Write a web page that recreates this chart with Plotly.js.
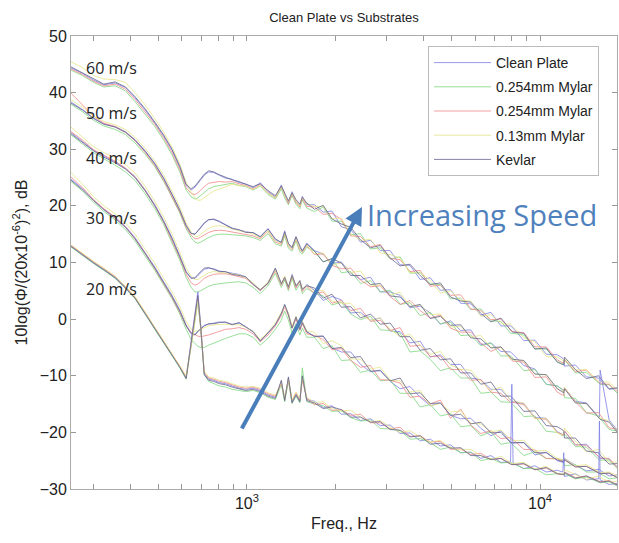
<!DOCTYPE html>
<html>
<head>
<meta charset="utf-8">
<script src="https://cdn.plot.ly/plotly-3.0.1.min.js"></script>
<style>html,body{margin:0;padding:0;background:#fff;}#chart{width:619px;height:543px;}</style>
</head>
<body>
<div id="chart"></div>
<script>
const freq = [250,275,300,325,355,385,415,450,485,520,555,590,620,645,665,680,695,715,740,770,805,845,890,940,990,1050,1110,1180,1250,1310,1345,1385,1425,1470,1515,1545,1600,1700,1820,1950,2100,2260,2440,2640,2850,3080,3330,3600,3900,4220,4570,4950,5360,5800,6280,6800,7350,7930,8010,8090,8800,9600,10500,11450,11960,12040,12120,13200,14400,15850,15940,16030,17200,18500];

const substrates = ["Clean Plate","0.254mm Mylar","0.254mm Mylar","0.13mm Mylar","Kevlar"];
const speedLabels = ["60 m/s","50 m/s","40 m/s","30 m/s","20 m/s"];

// 60 m/s
const s60_clean = [44.4,43.4,42.2,41.4,41.7,40.9,39.1,36.9,34.6,32.3,29.8,26.8,23.6,22.8,23.3,23.9,24.6,25.4,26.0,25.9,25.4,24.9,24.7,24.1,23.9,23.2,24.1,22.5,21.6,23.7,22.1,20.6,22.5,20.8,20.1,21.7,20.2,20.2,18.9,19.1,16.3,15.8,13.6,13.9,12.1,12.1,9.6,9.5,7.0,7.3,5.1,5.2,2.8,2.7,0.7,1.2,-1.2,-1.2,-1.4,-1.6,-3.8,-3.7,-6.2,-6.3,-6.9,-7.1,-8.3,-8.1,-10.2,-10.4,-10.6,-10.8,-12.4,-12.2];
const s60_mylarG = [44.0,43.0,41.8,41.0,41.2,40.3,38.4,36.2,34.0,31.6,29.0,26.0,22.8,21.6,21.2,21.4,21.8,22.4,23.0,23.4,23.6,23.8,24.0,23.6,23.4,22.8,23.5,22.0,21.2,23.0,21.4,20.2,21.8,20.3,19.5,21.0,19.6,19.0,19.8,17.3,17.3,14.9,15.1,12.4,12.6,10.6,11.0,8.1,8.2,6.2,6.1,3.6,3.7,1.7,1.8,-0.3,-0.4,-2.5,-2.5,-2.5,-2.8,-5.2,-5.3,-7.5,-7.9,-8.0,-7.2,-9.5,-9.4,-11.3,-11.3,-11.5,-11.6,-13.3];
const s60_mylarR = [44.2,43.2,42.0,41.2,41.5,40.6,38.8,36.6,34.4,32.0,29.4,26.4,23.2,22.2,22.0,22.3,22.8,23.4,24.0,24.2,24.3,24.2,24.3,23.9,23.6,23.0,23.8,22.3,21.4,23.3,21.8,20.4,22.1,20.6,19.8,21.3,19.9,19.8,18.5,18.7,17.6,14.7,14.6,12.8,13.2,10.7,10.5,8.4,8.6,5.8,6.0,4.2,4.3,1.8,1.5,-0.1,0.0,-1.9,-2.1,-2.2,-2.4,-4.9,-4.9,-7.2,-7.6,-7.8,-7.1,-9.3,-9.0,-11.2,-11.2,-11.4,-11.5,-13.0];
const s60_mylarY = [45.5,44.4,43.0,42.4,42.3,41.8,40.0,37.8,35.4,33.0,30.4,27.4,24.2,22.4,21.4,21.0,21.0,21.4,22.0,22.6,23.0,23.4,23.8,23.6,23.5,22.9,23.6,22.2,21.5,23.4,22.0,20.8,22.3,20.9,20.0,21.5,20.4,19.9,19.9,17.8,17.8,15.1,13.9,14.1,11.7,11.4,10.8,8.2,8.3,6.8,4.6,5.0,3.3,3.2,0.5,0.8,-0.8,-0.9,-1.1,-1.3,-3.3,-4.0,-6.6,-6.7,-7.3,-7.3,-7.0,-9.0,-8.9,-11.1,-11.1,-11.1,-11.1,-12.7];
const s60_kevlar = [44.6,43.5,42.4,41.5,41.9,41.0,39.3,37.1,34.8,32.5,30.0,27.0,23.8,23.0,23.5,24.1,24.8,25.6,26.2,26.0,25.5,25.0,24.6,24.3,23.8,23.4,23.9,22.7,21.8,23.5,22.3,20.9,22.3,21.1,20.3,21.5,20.5,19.4,20.1,17.7,16.8,16.2,14.0,12.6,13.0,10.8,9.4,9.7,7.7,6.1,6.4,3.9,3.2,3.0,1.0,-0.5,0.2,-2.1,-2.2,-2.3,-2.5,-5.3,-5.1,-7.6,-8.0,-8.1,-6.7,-8.9,-10.5,-10.0,-10.2,-10.4,-12.3,-12.1];

// 50 m/s
const s50_clean = [38.4,37.0,35.5,34.5,34.0,33.1,31.7,29.7,27.5,24.9,22.1,19.3,16.6,15.2,15.0,15.5,16.1,16.9,17.5,17.7,17.3,16.7,16.1,15.7,15.5,15.2,14.6,16.0,14.0,13.6,15.6,13.2,12.7,14.6,12.6,12.1,13.4,12.1,11.5,9.8,10.1,8.1,7.0,7.4,4.8,4.8,4.2,2.0,2.3,1.1,-0.9,-0.3,-2.0,-1.9,-4.5,-4.2,-5.7,-5.8,-6.0,-6.2,-8.2,-8.8,-11.5,-11.8,-12.5,-12.5,-12.2,-14.5,-14.8,-17.4,-17.4,-9.0,-17.8,-19.9];
const s50_mylarG = [38.0,36.6,35.1,34.1,33.5,32.6,31.1,29.1,26.9,24.3,21.5,18.7,16.0,14.4,13.6,13.4,13.6,14.0,14.4,14.8,15.0,15.0,14.9,14.8,14.7,14.4,13.9,15.1,13.3,12.9,14.7,12.5,12.0,13.8,11.9,11.5,12.7,12.0,10.1,10.7,8.2,8.4,6.3,6.8,4.8,5.1,2.6,2.9,0.6,1.2,-0.8,-0.5,-2.9,-2.8,-4.7,-4.2,-6.5,-6.5,-6.7,-6.9,-9.1,-8.9,-11.5,-11.8,-12.5,-12.7,-13.9,-14.0,-16.5,-17.1,-17.3,-17.5,-19.5,-19.8];
const s50_mylarR = [40.0,37.8,35.8,34.6,34.0,33.0,31.5,29.4,27.1,24.5,21.7,18.9,16.2,14.8,14.2,14.2,14.5,14.9,15.3,15.6,15.7,15.6,15.4,15.2,15.0,14.7,14.2,15.5,13.6,13.2,15.1,12.9,12.3,14.2,12.2,11.8,13.0,11.4,11.5,9.5,8.9,9.0,6.9,5.7,5.9,4.0,2.6,3.3,1.5,0.2,0.7,-1.6,-2.3,-2.3,-4.2,-5.7,-4.9,-7.2,-7.3,-7.4,-7.6,-10.3,-10.2,-12.9,-13.4,-13.5,-12.1,-14.6,-16.6,-16.5,-16.7,-16.9,-19.2,-19.5];
const s50_mylarY = [38.8,37.4,35.8,34.9,34.3,33.5,32.1,30.1,27.9,25.4,22.6,19.8,17.0,15.4,14.6,14.6,15.0,15.5,16.0,16.4,16.5,16.3,15.9,15.6,15.4,15.0,14.4,15.6,13.8,13.4,15.2,13.0,12.5,14.3,12.4,11.9,13.1,11.5,11.7,9.6,9.9,8.2,8.5,6.0,6.0,4.3,4.7,2.2,2.5,0.8,0.9,-1.4,-1.3,-3.1,-2.9,-5.0,-5.0,-7.1,-7.1,-7.1,-7.4,-9.7,-9.9,-12.3,-12.8,-12.9,-12.1,-14.7,-15.0,-17.3,-17.3,-17.5,-18.0,-20.2];
const s50_kevlar = [38.2,36.9,35.4,34.4,33.9,33.0,31.6,29.6,27.4,24.8,22.0,19.2,16.5,15.1,15.0,15.6,16.3,17.0,17.6,17.6,17.2,16.6,16.0,15.8,15.3,15.3,14.5,15.9,14.2,13.5,15.4,13.4,12.6,14.5,12.8,12.0,13.3,12.0,10.1,10.7,9.9,7.7,7.7,6.1,6.3,4.1,3.9,2.2,2.6,0.1,0.5,-1.1,-1.0,-3.3,-3.5,-5.1,-4.9,-6.8,-7.0,-7.1,-7.3,-9.7,-9.8,-12.3,-12.8,-13.0,-12.3,-14.8,-14.9,-17.5,-17.5,-17.7,-18.2,-20.2];

// 40 m/s
const s40_clean = [33.0,31.4,29.8,28.8,27.8,26.6,25.2,22.8,20.2,17.4,14.4,11.2,8.4,7.3,7.2,7.7,8.2,8.8,9.0,8.9,8.5,8.3,8.0,7.9,7.4,6.3,5.0,6.5,8.9,6.1,7.5,5.5,7.9,5.7,6.9,5.1,6.1,5.1,3.3,4.0,3.4,1.1,1.2,-0.2,0.2,-2.1,-2.2,-4.2,-3.9,-6.7,-6.3,-8.0,-8.0,-10.4,-10.7,-12.4,-12.4,-14.3,-14.5,-14.6,-14.9,-17.4,-17.5,-19.9,-20.3,-20.5,-19.8,-22.2,-22.1,-24.4,-24.4,-24.6,-24.7,-26.3];
const s40_mylarG = [32.6,31.0,29.4,28.3,27.2,26.0,24.5,22.1,19.5,16.7,13.6,10.4,7.4,5.6,4.8,4.8,5.0,5.4,5.8,6.1,6.3,6.4,6.5,6.6,6.4,5.6,4.5,5.9,8.1,5.6,6.9,5.0,7.2,5.1,6.2,4.5,5.4,4.6,4.1,2.5,3.0,0.9,-0.1,0.5,-1.9,-2.0,-2.5,-5.8,-5.6,-7.1,-9.1,-8.6,-10.4,-10.4,-13.1,-12.9,-14.6,-14.7,-14.9,-15.1,-17.2,-17.1,-19.8,-20.0,-20.6,-20.6,-20.3,-22.5,-22.6,-24.9,-24.9,-24.9,-24.9,-26.6];
const s40_mylarR = [33.2,31.6,29.9,28.9,27.9,26.7,25.1,22.7,20.0,17.1,14.0,10.8,7.9,6.4,6.0,6.2,6.6,7.2,7.6,7.9,8.0,8.0,7.8,7.5,7.2,6.1,5.0,6.3,8.5,6.0,7.3,5.3,7.6,5.5,6.6,4.9,5.8,4.5,4.8,2.8,3.3,1.5,1.9,-0.4,-0.2,-2.0,-1.5,-4.8,-4.6,-6.6,-6.5,-8.9,-8.9,-10.8,-10.7,-12.9,-13.1,-14.7,-14.7,-14.7,-15.1,-17.5,-17.7,-20.0,-20.4,-20.5,-19.7,-22.2,-22.3,-24.3,-24.3,-24.5,-24.6,-26.4];
const s40_mylarY = [34.0,32.2,30.4,29.4,28.5,27.3,25.8,23.4,20.8,18.0,15.0,11.8,9.0,7.6,7.0,7.0,7.3,7.8,8.2,8.4,8.3,8.2,8.0,7.8,7.3,6.4,5.2,6.6,8.7,6.3,7.6,5.7,7.7,5.9,6.8,5.3,6.0,4.9,5.1,3.2,2.8,2.8,0.8,-0.2,0.2,-1.8,-3.1,-2.7,-4.6,-6.2,-5.7,-8.1,-8.9,-9.0,-11.0,-12.6,-12.0,-14.3,-14.4,-14.5,-14.8,-17.6,-17.5,-20.1,-20.5,-20.6,-19.2,-21.6,-23.4,-23.0,-23.2,-23.4,-25.3,-25.2];
const s40_kevlar = [32.8,31.2,29.7,28.6,27.6,26.5,25.0,22.6,20.0,17.2,14.2,11.0,8.3,7.2,7.3,7.9,8.4,9.0,9.1,8.8,8.4,8.4,7.9,7.7,7.5,6.1,5.2,6.3,9.0,6.3,7.3,5.7,7.7,5.9,6.7,5.3,5.9,5.5,3.7,4.4,2.1,2.2,0.2,0.9,-0.9,-0.7,-3.1,-3.1,-5.5,-5.2,-7.2,-7.0,-9.5,-9.5,-11.5,-11.1,-13.6,-13.6,-13.8,-14.0,-16.3,-16.2,-18.8,-19.0,-19.6,-19.8,-21.0,-21.0,-23.3,-23.6,-23.8,-24.0,-25.6,-25.5];

// 30 m/s
const s30_clean = [24.8,23.0,21.0,19.4,18.0,16.4,14.4,11.8,9.2,6.6,4.2,1.6,-1.0,-2.4,-2.7,-2.1,-1.6,-1.1,-0.9,-0.7,-0.5,-0.6,-0.9,-0.7,-1.3,-2.3,-3.8,-2.5,-0.9,0.9,2.5,0.9,-1.5,0.3,-1.9,-0.5,-2.3,-3.0,-3.0,-5.1,-5.8,-5.8,-8.0,-9.3,-9.0,-11.0,-12.3,-11.9,-13.8,-15.3,-14.8,-17.0,-17.6,-17.5,-19.3,-20.6,-19.7,-21.7,-21.8,-21.9,-21.8,-24.0,-23.5,-25.0,-25.3,-25.4,-24.6,-25.8,-26.8,-26.4,-26.5,-26.7,-27.7,-27.5];
const s30_mylarG = [24.4,22.6,20.6,19.0,17.5,15.8,13.8,11.2,8.6,6.0,3.6,0.9,-1.8,-3.6,-4.4,-4.8,-5.0,-5.0,-4.6,-4.2,-3.8,-3.4,-3.0,-2.6,-2.6,-3.2,-4.6,-3.4,-1.8,-0.2,1.4,-0.2,-2.4,-0.8,-2.8,-1.6,-3.2,-3.2,-5.2,-4.7,-7.3,-7.2,-9.4,-9.0,-10.9,-10.7,-13.1,-13.1,-15.5,-15.1,-17.1,-16.7,-19.0,-18.8,-20.6,-19.9,-22.1,-21.8,-22.0,-22.2,-24.1,-23.4,-24.6,-24.6,-25.0,-25.2,-25.9,-25.7,-27.0,-27.0,-27.2,-27.3,-28.2,-28.0];
const s30_mylarR = [25.2,23.2,21.1,19.5,18.0,16.3,14.2,11.6,8.9,6.3,3.8,1.2,-1.2,-2.4,-2.8,-3.0,-3.1,-3.0,-2.8,-2.5,-2.1,-1.8,-1.7,-1.5,-1.8,-2.6,-4.0,-2.8,-1.2,0.6,2.2,0.6,-1.6,0.0,-2.0,-0.8,-2.6,-2.9,-3.6,-5.4,-5.2,-7.3,-8.5,-8.2,-10.7,-10.8,-11.3,-13.8,-13.6,-15.0,-14.3,-17.5,-15.9,-18.7,-20.2,-19.7,-21.1,-20.9,-21.1,-21.3,-23.0,-23.1,-24.6,-24.7,-25.0,-25.1,-24.9,-26.1,-26.0,-27.2,-27.3,-27.3,-27.2,-28.1];
const s30_mylarY = [26.0,23.8,21.6,20.0,18.6,17.0,15.0,12.4,9.8,7.2,4.8,2.2,-0.4,-1.8,-2.2,-2.0,-1.8,-1.5,-1.2,-1.0,-0.9,-0.9,-1.0,-1.0,-1.4,-2.2,-3.6,-2.3,-0.7,1.1,2.3,1.1,-1.3,0.5,-1.7,-0.3,-2.1,-2.3,-4.3,-3.8,-4.7,-7.0,-7.1,-8.8,-8.5,-10.8,-10.9,-12.9,-12.6,-15.3,-14.9,-16.4,-16.2,-18.4,-18.5,-19.9,-19.6,-21.2,-21.4,-21.5,-21.4,-23.3,-23.2,-24.6,-24.8,-25.0,-24.6,-25.9,-25.7,-26.9,-26.9,-27.1,-27.0,-27.8];
const s30_kevlar = [24.6,22.8,20.9,19.3,17.8,16.2,14.2,11.6,9.0,6.4,4.0,1.4,-1.2,-2.6,-2.8,-2.2,-1.7,-1.2,-0.8,-0.8,-0.6,-0.5,-1.0,-0.6,-1.4,-2.2,-3.9,-2.4,-1.0,1.0,2.6,0.8,-1.6,0.4,-1.8,-0.6,-2.2,-3.1,-3.0,-5.2,-5.0,-6.8,-6.6,-9.2,-9.1,-10.9,-10.4,-13.2,-13.0,-14.9,-14.8,-17.0,-16.8,-18.5,-18.2,-20.1,-20.0,-21.8,-21.8,-21.8,-21.8,-23.6,-23.6,-24.9,-25.1,-25.2,-24.8,-26.1,-26.0,-27.1,-27.1,-27.3,-27.2,-28.1];

// 20 m/s
const s20_clean = [13.0,11.4,10.0,8.8,7.4,5.6,3.8,1.0,-1.6,-4.0,-6.2,-8.4,-10.4,-4.2,1.2,4.8,-1.0,-9.6,-10.6,-10.8,-11.2,-11.4,-11.8,-12.2,-12.4,-12.2,-12.6,-13.4,-13.8,-11.0,-14.2,-10.4,-14.6,-13.2,-14.4,-10.2,-14.2,-14.5,-15.6,-15.3,-16.8,-16.7,-17.9,-17.6,-18.8,-18.7,-20.2,-20.1,-21.5,-21.2,-22.4,-22.2,-23.6,-23.5,-24.6,-24.1,-25.3,-25.2,-11.5,-25.4,-26.4,-25.9,-27.0,-26.7,-27.0,-23.6,-27.8,-27.3,-28.4,-28.2,-18.0,-28.4,-29.2,-29.0];
const s20_mylarG = [12.8,11.2,9.8,8.6,7.2,5.4,3.6,0.8,-1.8,-4.2,-6.4,-8.6,-10.6,-5.0,-0.4,3.0,-1.6,-9.8,-11.0,-11.4,-11.8,-12.0,-12.4,-12.6,-12.8,-12.6,-13.0,-13.8,-14.2,-11.6,-14.6,-11.0,-14.9,-13.6,-14.8,-8.6,-14.6,-15.0,-15.3,-16.3,-16.2,-17.4,-18.0,-17.8,-19.3,-19.4,-19.7,-21.2,-21.1,-21.8,-23.0,-22.6,-23.6,-23.5,-25.0,-24.6,-25.4,-25.3,-25.4,-25.5,-26.4,-26.4,-27.5,-27.3,-27.5,-27.5,-27.3,-28.2,-27.9,-28.9,-28.9,-28.9,-28.7,-29.6];
const s20_mylarR = [13.1,11.5,10.1,8.9,7.5,5.7,3.9,1.1,-1.5,-3.9,-6.1,-8.3,-10.2,-4.6,0.6,3.6,-1.4,-9.4,-10.4,-10.6,-11.0,-11.2,-11.6,-12.0,-12.2,-12.0,-12.4,-13.2,-13.6,-11.4,-14.0,-10.8,-14.4,-13.0,-14.2,-10.8,-14.0,-15.1,-14.9,-16.1,-16.0,-17.0,-16.8,-18.3,-18.3,-19.4,-19.1,-20.7,-20.6,-21.7,-21.6,-23.0,-22.9,-23.9,-23.7,-24.8,-24.6,-25.7,-25.7,-25.7,-25.6,-26.6,-26.3,-27.3,-27.4,-27.5,-27.0,-28.0,-27.7,-28.6,-28.6,-28.7,-28.5,-29.4];
const s20_mylarY = [13.2,11.6,10.2,9.0,7.6,5.8,4.0,1.2,-1.4,-3.8,-6.0,-8.2,-10.0,-4.8,0.2,3.2,-1.2,-9.2,-10.2,-10.4,-10.8,-11.0,-11.4,-11.8,-12.0,-11.9,-12.2,-13.0,-13.4,-11.2,-13.8,-10.6,-14.2,-12.9,-14.0,-10.4,-13.8,-14.7,-14.6,-15.8,-16.2,-16.1,-17.3,-18.1,-17.9,-19.1,-20.0,-19.7,-20.8,-21.7,-21.4,-22.7,-23.1,-23.0,-24.1,-24.8,-24.2,-25.4,-25.5,-25.5,-25.3,-26.5,-26.0,-27.2,-27.4,-27.4,-26.6,-27.5,-28.3,-27.7,-27.8,-27.9,-28.8,-28.6];
const s20_kevlar = [12.9,11.3,9.9,8.7,7.3,5.5,3.7,0.9,-1.7,-4.1,-6.3,-8.5,-10.5,-4.4,0.8,4.2,-1.2,-9.8,-10.8,-11.0,-11.4,-11.6,-12.0,-12.3,-12.6,-12.4,-12.8,-13.6,-14.0,-10.8,-14.4,-10.2,-14.8,-13.4,-14.6,-10.0,-14.4,-14.8,-15.8,-15.5,-16.0,-17.3,-17.3,-18.2,-18.1,-19.5,-19.6,-20.8,-20.6,-22.1,-21.9,-22.8,-22.7,-24.1,-24.1,-24.8,-24.6,-25.6,-25.7,-25.7,-25.5,-26.6,-26.2,-27.3,-27.4,-27.5,-27.1,-28.1,-27.7,-28.7,-28.7,-28.8,-28.6,-29.4];

const xTickVals = [300,400,500,600,700,800,900,1000,2000,3000,4000,5000,6000,7000,8000,9000,10000];
const xTickText = ["","","","","","","","10<sup>3</sup>","","","","","","","","","10<sup>4</sup>"];

const colors = ["rgb(125,125,228)","rgb(125,215,125)","rgb(240,135,135)","rgb(228,228,135)","rgb(100,100,140)"];
const groups = [
  [s60_clean,s60_mylarG,s60_mylarR,s60_mylarY,s60_kevlar],
  [s50_clean,s50_mylarG,s50_mylarR,s50_mylarY,s50_kevlar],
  [s40_clean,s40_mylarG,s40_mylarR,s40_mylarY,s40_kevlar],
  [s30_clean,s30_mylarG,s30_mylarR,s30_mylarY,s30_kevlar],
  [s20_clean,s20_mylarG,s20_mylarR,s20_mylarY,s20_kevlar]
];

const traces = [];
groups.forEach((grp, gi) => {
  grp.forEach((vals, si) => {
    traces.push({
      x: freq, y: vals, type: "scatter", mode: "lines",
      name: substrates[si], legendgroup: "s" + si, showlegend: gi === 0,
      line: {color: colors[si], width: 0.8},
      hoverinfo: "skip"
    });
  });
});

const pL = 71, pR = 617, pT = 36, pB = 489;
const px = v => (v - pL) / (pR - pL);
const py = v => (pB - v) / (pB - pT);
const labelY = [68, 113, 158, 218, 289];
const annotations = speedLabels.map((t, i) => ({
  text: t, xref: "paper", yref: "paper", x: px(84), y: py(labelY[i]),
  xanchor: "left", yanchor: "middle", showarrow: false,
  font: {family: "Open Sans", size: 16, color: "#222"}
}));
annotations.push({
  text: "", xref: "paper", yref: "paper", x: px(362), y: py(207),
  ax: -121, ay: 223, axref: "pixel", ayref: "pixel",
  showarrow: true, arrowhead: 2, arrowsize: 0.9, arrowwidth: 4, arrowcolor: "#4a7ebb"
});
annotations.push({
  text: "Increasing Speed", xref: "paper", yref: "paper", x: px(365), y: py(214),
  xanchor: "left", yanchor: "middle", showarrow: false,
  font: {family: "Open Sans", size: 29, color: "#4f81bd"}
});

const layout = {
  width: 619, height: 543,
  margin: {l: pL, r: 619 - pR, t: pT, b: 543 - pB},
  paper_bgcolor: "#fff", plot_bgcolor: "#fff",
  font: {family: "Liberation Sans, Arial", color: "#222"},
  title: {text: "Clean Plate vs Substrates", x: 0.5 * (pL + pR) / 619, xanchor: "center", y: 1 - 17 / 543, yanchor: "middle", font: {size: 13, color: "#222"}},
  xaxis: {
    type: "log", range: [Math.log10(251), Math.log10(18300)],
    tickvals: xTickVals, ticktext: xTickText, ticks: "inside", ticklen: 5, tickcolor: "#999",
    showline: true, linecolor: "#aaa", linewidth: 1, mirror: "ticks", showgrid: false, zeroline: false,
    tickfont: {size: 16, color: "#222"},
    title: {text: "Freq., Hz", font: {size: 16, color: "#222"}, standoff: 6}
  },
  yaxis: {
    range: [-30, 50], tickvals: [-30,-20,-10,0,10,20,30,40,50],
    ticks: "inside", ticklen: 5, tickcolor: "#999",
    showline: true, linecolor: "#aaa", linewidth: 1, mirror: "ticks", showgrid: false, zeroline: false,
    tickfont: {size: 16, color: "#222"},
    title: {text: "10log(Φ/(20x10<sup>-6</sup>)<sup>2</sup>), dB", font: {size: 16, color: "#222"}, standoff: 8}
  },
  legend: {
    x: px(428), y: py(46), xanchor: "left", yanchor: "top",
    bgcolor: "#fff", bordercolor: "#bbb", borderwidth: 1,
    font: {size: 14, color: "#222"}, itemwidth: 57, tracegroupgap: 3
  },
  annotations: annotations,
  showlegend: true
};

Plotly.newPlot("chart", traces, layout, {staticPlot: true, displayModeBar: false});
</script>
</body>
</html>
